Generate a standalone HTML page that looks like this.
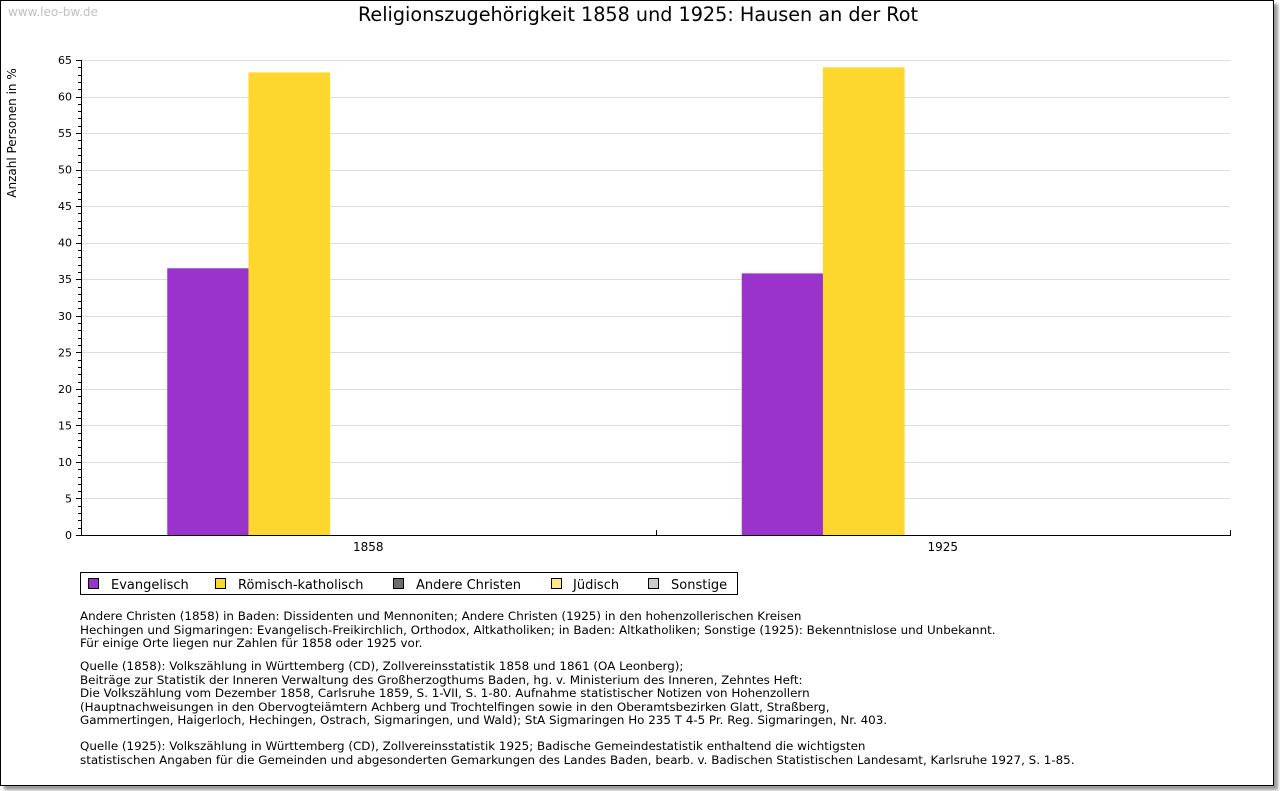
<!DOCTYPE html>
<html><head><meta charset="utf-8"><style>
body{margin:0;background:#fff;font-family:"DejaVu Sans","Liberation Sans",sans-serif;}
#frame{position:absolute;left:0;top:0;width:1272px;height:784px;border:1px solid #000;box-shadow:4px 4px 3px #999;background:#fff;}
.note{position:absolute;left:80px;font-size:11.9px;line-height:13.5px;color:#000;white-space:pre;}
</style></head><body>
<div id="frame"></div>
<svg width="1280" height="791" style="position:absolute;left:0;top:0" id="chart" font-family="DejaVu Sans, Liberation Sans, sans-serif">
<text x="8" y="16" font-size="12" fill="#c0c0c0">www.leo-bw.de</text>
<text x="638" y="21" font-size="19.2" text-anchor="middle">Religionszugehörigkeit 1858 und 1925: Hausen an der Rot</text>
<text transform="translate(16,133) rotate(-90)" font-size="12" text-anchor="middle">Anzahl Personen in %</text>
<g id="grid"></g><g id="bars"></g><g id="axes"></g>
<g>
<rect x="80.5" y="572.5" width="657" height="22" fill="#fff" stroke="#000"/>
<rect x="88.5" y="578.5" width="10" height="10" fill="#9933cc" stroke="#000"/><text x="111" y="589" font-size="13">Evangelisch</text>
<rect x="215.5" y="578.5" width="10" height="10" fill="#fdd72e" stroke="#000"/><text x="238" y="589" font-size="13">Römisch-katholisch</text>
<rect x="393.5" y="578.5" width="10" height="10" fill="#6e6e6e" stroke="#000"/><text x="416" y="589" font-size="13">Andere Christen</text>
<rect x="551.5" y="578.5" width="10" height="10" fill="#fde98a" stroke="#000"/><text x="573" y="589" font-size="13">Jüdisch</text>
<rect x="648.5" y="578.5" width="10" height="10" fill="#cccccc" stroke="#000"/><text x="671" y="589" font-size="13">Sonstige</text>
</g>
</svg>
<div class="note" style="top:610px">Andere Christen (1858) in Baden: Dissidenten und Mennoniten; Andere Christen (1925) in den hohenzollerischen Kreisen
Hechingen und Sigmaringen: Evangelisch-Freikirchlich, Orthodox, Altkatholiken; in Baden: Altkatholiken; Sonstige (1925): Bekenntnislose und Unbekannt.
Für einige Orte liegen nur Zahlen für 1858 oder 1925 vor.</div>
<div class="note" style="top:660px">Quelle (1858): Volkszählung in Württemberg (CD), Zollvereinsstatistik 1858 und 1861 (OA Leonberg);
Beiträge zur Statistik der Inneren Verwaltung des Großherzogthums Baden, hg. v. Ministerium des Inneren, Zehntes Heft:
Die Volkszählung vom Dezember 1858, Carlsruhe 1859, S. 1-VII, S. 1-80. Aufnahme statistischer Notizen von Hohenzollern
(Hauptnachweisungen in den Obervogteiämtern Achberg und Trochtelfingen sowie in den Oberamtsbezirken Glatt, Straßberg,
Gammertingen, Haigerloch, Hechingen, Ostrach, Sigmaringen, und Wald); StA Sigmaringen Ho 235 T 4-5 Pr. Reg. Sigmaringen, Nr. 403.</div>
<div class="note" style="top:740px">Quelle (1925): Volkszählung in Württemberg (CD), Zollvereinsstatistik 1925; Badische Gemeindestatistik enthaltend die wichtigsten
statistischen Angaben für die Gemeinden und abgesonderten Gemarkungen des Landes Baden, bearb. v. Badischen Statistischen Landesamt, Karlsruhe 1927, S. 1-85.</div>
<script>
const categories=["1858","1925"];
const seriesNames=["Evangelisch","Römisch-katholisch","Andere Christen","Jüdisch","Sonstige"];
const evangelisch=[36.5,35.8];
const katholisch=[63.3,64.0];
const andereChristen=[0,0];
const juedisch=[0,0];
const sonstige=[0,0];
const yTicks=[0,5,10,15,20,25,30,35,40,45,50,55,60,65];
const colors=["#9933cc","#fdd72e","#6e6e6e","#fde98a","#cccccc"];
const NS="http://www.w3.org/2000/svg";
const X0=81,X1=1230,Y0=535,Y1=60,YMAX=65;
const y=v=>Y0-(v/YMAX)*(Y0-Y1);
const gw=(X1-X0)/categories.length;
const bw=81.2;
const xg=i=>X0+i*gw;
function mk(t,a,p){const e=document.createElementNS(NS,t);for(const k in a)e.setAttribute(k,a[k]);p.appendChild(e);return e;}
const grid=document.getElementById('grid'),bars=document.getElementById('bars'),axes=document.getElementById('axes');
yTicks.forEach(t=>{
 if(t>0){const l=mk('line',{x1:X0,x2:X1,y1:Math.round(y(t))+.5,y2:Math.round(y(t))+.5,stroke:'#dcdcdc'},grid);
 
 }
 const tx=mk('text',{x:72,y:y(t)+4,'font-size':11,'text-anchor':'end'},axes);tx.textContent=t;
 
 
});
for(let v=0;v<=YMAX;v++){mk('line',{x1:X0-(v%5?3:5),x2:X0,y1:Math.round(y(v))+.5,y2:Math.round(y(v))+.5,stroke:'#000'},axes);}
const all=[evangelisch,katholisch,andereChristen,juedisch,sonstige];
categories.forEach((c,i)=>{
 const start=xg(i)+(gw-5*bw)/2+2;
 all.forEach((s,j)=>{
  if(s[i]<=0)return;
  const r=mk('rect',{x:start+j*bw,y:y(s[i]),width:bw+0.5,height:Y0-y(s[i]),fill:colors[j]},bars);
  
  
 });
 const tx=mk('text',{x:xg(i)+gw/2,y:551,'font-size':12,'text-anchor':'middle'},axes);tx.textContent=c;
 
 
 if(i>0)mk('line',{x1:Math.round(xg(i))+.5,x2:Math.round(xg(i))+.5,y1:Y0-5,y2:Y0,stroke:'#000'},axes);
});
mk('line',{x1:X1+.5,x2:X1+.5,y1:Y0-5,y2:Y0,stroke:'#000'},axes);
mk('line',{x1:X0+.5,x2:X0+.5,y1:Y1,y2:Y0,stroke:'#000'},axes);
mk('line',{x1:X0,x2:X1+1,y1:Y0+.5,y2:Y0+.5,stroke:'#000'},axes);
</script>
</body></html>
